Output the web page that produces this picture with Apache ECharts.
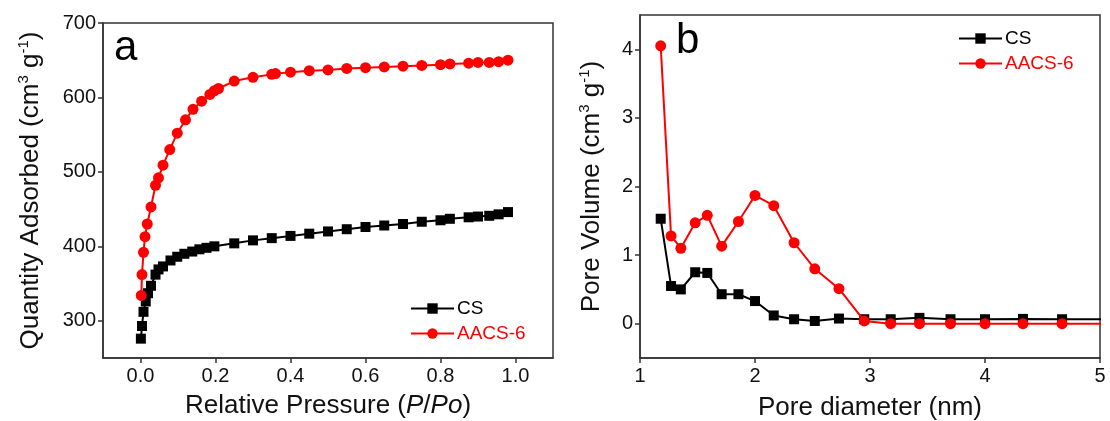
<!DOCTYPE html>
<html>
<head>
<meta charset="utf-8">
<script src="https://cdn.jsdelivr.net/npm/echarts@6/dist/echarts.min.js"></script>
<style>
html,body{margin:0;padding:0;background:#fff;}
#c{width:1110px;height:421px;}
</style>
</head>
<body>
<div id="c"></div>
<script>
// ---- Panel a: N2 adsorption isotherms ----
const isoCsX = [0.001, 0.004, 0.008, 0.014, 0.02, 0.028, 0.04, 0.048, 0.06, 0.08, 0.098, 0.117, 0.138, 0.157, 0.176, 0.197, 0.25, 0.30, 0.35, 0.40, 0.45, 0.50, 0.55, 0.60, 0.65, 0.70, 0.75, 0.80, 0.825, 0.875, 0.90, 0.93, 0.955, 0.98];
const isoCsY = [276, 293, 312, 326, 337, 347, 362, 369, 373, 381, 386, 390, 393, 396, 398, 400, 404, 408, 411, 414, 417, 420, 423, 426, 428, 430, 433, 435, 437, 439, 440, 441, 443, 446];
const isoAacsX = [0.002, 0.004, 0.008, 0.012, 0.018, 0.028, 0.04, 0.048, 0.06, 0.078, 0.098, 0.12, 0.14, 0.163, 0.185, 0.197, 0.208, 0.25, 0.30, 0.35, 0.36, 0.40, 0.45, 0.50, 0.55, 0.60, 0.65, 0.70, 0.75, 0.80, 0.825, 0.875, 0.90, 0.93, 0.955, 0.98];
const isoAacsY = [334, 362, 392, 413, 430, 453, 482, 492, 509, 530, 552, 570, 584, 595, 604, 609, 612, 622, 627, 631, 632, 634, 636, 637, 639, 640, 641, 642, 643, 644, 645, 646, 647, 647, 648, 650];
const isoXTicks = [0, 0.2, 0.4, 0.6, 0.8, 1.0];
const isoYTicks = [300, 400, 500, 600, 700];

// ---- Panel b: pore size distribution ----
const poreX = [1.18, 1.27, 1.355, 1.48, 1.585, 1.71, 1.856, 2.0, 2.163, 2.34, 2.52, 2.73, 2.95, 3.18, 3.43, 3.70, 4.0, 4.33, 4.67, 5.06];
const poreCs = [1.53, 0.55, 0.50, 0.75, 0.74, 0.43, 0.43, 0.33, 0.12, 0.065, 0.04, 0.075, 0.065, 0.065, 0.085, 0.065, 0.065, 0.07, 0.065, 0.065];
const poreAacs = [4.05, 1.28, 1.10, 1.47, 1.58, 1.13, 1.49, 1.87, 1.72, 1.18, 0.80, 0.51, 0.04, 0.0, 0.0, 0.0, 0.0, 0.0, 0.0, 0.0];
const poreXTicks = [1, 2, 3, 4, 5];
const poreYTicks = [0, 1, 2, 3, 4];

const seriesNames = ['CS', 'AACS-6'];
const BLACK = '#000000';
const RED = '#ff0000';
const FONT = 'Liberation Sans, Arial, sans-serif';

const pairs = (xs, ys) => xs.map((x, i) => [x, ys[i]]);

const axisLineStyle = {show: true, onZero: false, lineStyle: {color: '#333', width: 1.5}};
const tickStyle = {show: true, length: 5, inside: false, lineStyle: {color: '#333', width: 1.5}};
const labelBase = {color: '#111', fontSize: 20, fontFamily: FONT};
const nameRich = {
  sup: {fontSize: 15, fontFamily: FONT, color: '#111', verticalAlign: 'top', lineHeight: 15},
  it: {fontSize: 26, fontFamily: FONT, color: '#111', fontStyle: 'italic', lineHeight: 30}
};
const nameBase = {color: '#111', fontSize: 26, fontFamily: FONT, lineHeight: 30, rich: nameRich};

const chart = echarts.init(document.getElementById('c'), null, {renderer: 'canvas'});

const option = {
  backgroundColor: '#fff',
  animation: false,
  grid: [
    {left: 103, top: 23, width: 450, height: 335, outerBoundsMode: 'none', containLabel: false, show: true, borderColor: '#333', borderWidth: 1.5, backgroundColor: 'transparent'},
    {left: 640, top: 15, width: 460, height: 343, outerBoundsMode: 'none', containLabel: false, show: true, borderColor: '#333', borderWidth: 1.5, backgroundColor: 'transparent'}
  ],
  xAxis: [
    {
      type: 'value', gridIndex: 0, min: -0.1, max: 1.1,
      axisLine: axisLineStyle, splitLine: {show: false},
      axisTick: Object.assign({}, tickStyle, {customValues: isoXTicks}),
      axisLabel: Object.assign({}, labelBase, {customValues: isoXTicks, margin: 8, formatter: v => v.toFixed(1)}),
      name: 'Relative Pressure ({it|P}/{it|Po})', nameLocation: 'middle', nameGap: 33,
      nameTextStyle: nameBase
    },
    {
      type: 'value', gridIndex: 1, min: 1, max: 5, interval: 1,
      axisLine: axisLineStyle, splitLine: {show: false},
      axisTick: Object.assign({}, tickStyle, {customValues: poreXTicks}),
      axisLabel: Object.assign({}, labelBase, {customValues: poreXTicks, margin: 8}),
      name: 'Pore diameter (nm)', nameLocation: 'middle', nameGap: 35,
      nameTextStyle: nameBase
    }
  ],
  yAxis: [
    {
      type: 'value', gridIndex: 0, min: 250, max: 700,
      axisLine: axisLineStyle, splitLine: {show: false},
      axisTick: Object.assign({}, tickStyle, {customValues: isoYTicks}),
      axisLabel: Object.assign({}, labelBase, {customValues: isoYTicks, margin: 7}),
      name: 'Quantity Adsorbed (cm{sup|3} g{sup|-1})', nameLocation: 'middle', nameGap: 57,
      nameTextStyle: nameBase
    },
    {
      type: 'value', gridIndex: 1, min: -0.5, max: 4.5,
      axisLine: axisLineStyle, splitLine: {show: false},
      axisTick: Object.assign({}, tickStyle, {customValues: poreYTicks}),
      axisLabel: Object.assign({}, labelBase, {customValues: poreYTicks, margin: 7}),
      name: 'Pore Volume (cm{sup|3} g{sup|-1})', nameLocation: 'middle', nameGap: 33,
      nameTextStyle: nameBase
    }
  ],
  legend: [
    {
      orient: 'vertical', left: 405, top: 294, itemWidth: 43, itemHeight: 13, itemGap: 6,
      data: [
        {name: seriesNames[0], textStyle: {color: BLACK}},
        {name: seriesNames[1], textStyle: {color: RED}}
      ],
      textStyle: {fontSize: 19, fontFamily: FONT, padding: [0, 0, 0, -2]}
    },
    {
      orient: 'vertical', left: 953, top: 24, itemWidth: 43, itemHeight: 13, itemGap: 6,
      data: [
        {name: seriesNames[0], textStyle: {color: BLACK}},
        {name: seriesNames[1], textStyle: {color: RED}}
      ],
      textStyle: {fontSize: 19, fontFamily: FONT, padding: [0, 0, 0, -2]}
    }
  ],
  graphic: [
    {type: 'text', left: 114, top: 27, style: {text: 'a', fontSize: 42, fontFamily: FONT, fill: '#000'}},
    {type: 'text', left: 676, top: 20, style: {text: 'b', fontSize: 42, fontFamily: FONT, fill: '#000'}}
  ],
  series: [
    {
      name: seriesNames[0], type: 'line', xAxisIndex: 0, yAxisIndex: 0,
      data: pairs(isoCsX, isoCsY), symbol: 'rect', symbolSize: 10,
      lineStyle: {color: BLACK, width: 2}, itemStyle: {color: BLACK}, z: 3
    },
    {
      name: seriesNames[1], type: 'line', xAxisIndex: 0, yAxisIndex: 0,
      data: pairs(isoAacsX, isoAacsY), symbol: 'circle', symbolSize: 11,
      lineStyle: {color: RED, width: 2}, itemStyle: {color: RED}, z: 4
    },
    {
      name: seriesNames[0], type: 'line', xAxisIndex: 1, yAxisIndex: 1, clip: true,
      data: pairs(poreX, poreCs), symbol: 'rect', symbolSize: 10,
      lineStyle: {color: BLACK, width: 2}, itemStyle: {color: BLACK}, z: 3
    },
    {
      name: seriesNames[1], type: 'line', xAxisIndex: 1, yAxisIndex: 1, clip: true,
      data: pairs(poreX, poreAacs), symbol: 'circle', symbolSize: 11,
      lineStyle: {color: RED, width: 2}, itemStyle: {color: RED}, z: 4
    }
  ]
};
chart.setOption(option);
</script>
</body>
</html>
